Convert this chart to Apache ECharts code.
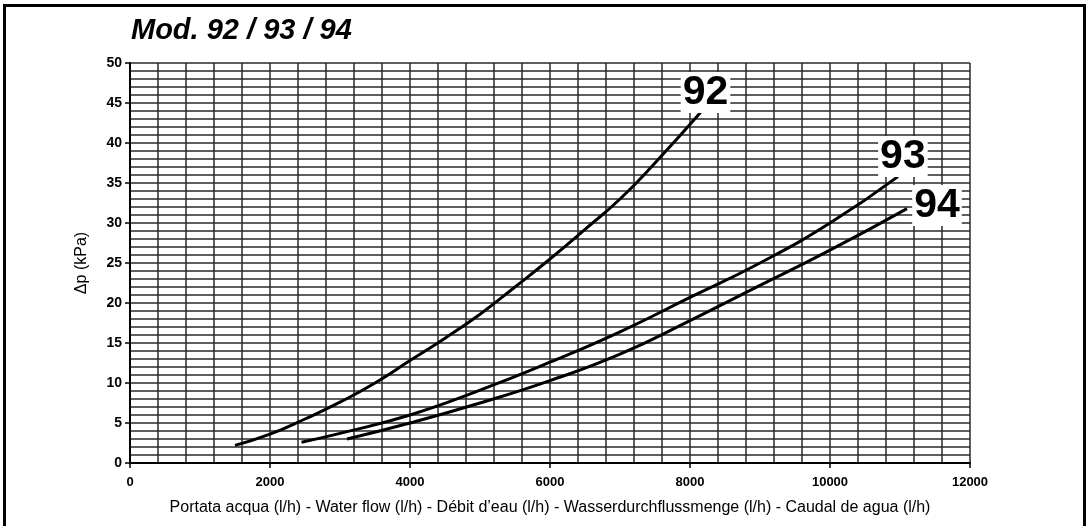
<!DOCTYPE html>
<html>
<head>
<meta charset="utf-8">
<title>Mod. 92 / 93 / 94</title>
<script src="https://cdn.jsdelivr.net/npm/echarts@6/dist/echarts.min.js"></script>
<style>
  body { margin:0; background:#fff; }
  #chart { width:1087px; height:526px; }
</style>
</head>
<body>
<div id="chart"></div>
<script>
// portata acqua (l/h) e perdita di carico (kPa)
var flow92 = [1500, 2000, 2500, 3000, 3500, 4000, 4500, 5000, 5500, 6000, 6500, 7000, 7500, 8150]
var dp92   = [2.2, 3.6, 5.5, 7.6, 10.0, 12.8, 15.6, 18.6, 22.0, 25.5, 29.2, 33.0, 37.5, 43.8]
var flow93 = [2450, 3000, 4000, 5000, 6000, 7000, 8000, 9000, 10000, 10970]
var dp93   = [2.6, 3.7, 6.0, 9.1, 12.6, 16.4, 20.7, 25.0, 30.0, 35.8]
var flow94 = [3100, 4000, 5000, 6000, 7000, 8000, 9000, 10000, 11100]
var dp94   = [3.0, 5.0, 7.5, 10.3, 13.6, 17.8, 22.2, 26.6, 31.8]
var models = ['92', '93', '94']
var xTicks = [0, 2000, 4000, 6000, 8000, 10000, 12000]
var yTicks = [0, 5, 10, 15, 20, 25, 30, 35, 40, 45, 50]

function pairs(xs, ys) {
  var out = []
  for (var i = 0; i < xs.length; i++) out.push([xs[i], ys[i]])
  return out
}

var myChart = echarts.init(document.getElementById('chart'))
var gridLine = { show: true, lineStyle: { color: '#2a2a2a', width: 1.5 } }
var labelOffsets = [[-3, -20], [-3, -20], [22, -3]]
var allData = [pairs(flow92, dp92), pairs(flow93, dp93), pairs(flow94, dp94)]

var series = []
for (var s = 0; s < models.length; s++) {
  series.push({
    name: models[s],
    type: 'line',
    smooth: 0.5,
    symbol: 'none',
    data: allData[s],
    lineStyle: { color: '#000', width: 3 },
    endLabel: {
      show: true,
      formatter: models[s],
      position: 'inside',
      align: 'center',
      verticalAlign: 'middle',
      offset: labelOffsets[s],
      fontFamily: 'Liberation Sans',
      fontWeight: 'bold',
      fontSize: 41,
      color: '#000',
      backgroundColor: '#fff',
      padding: [0, 2]
    }
  })
}

myChart.setOption({
  animation: false,
  title: {
    text: 'Mod. 92 / 93 / 94',
    left: 126,
    top: 11,
    textStyle: { fontFamily: 'Liberation Sans', fontStyle: 'italic', fontWeight: 'bold', fontSize: 29, color: '#000' }
  },
  graphic: [{
    type: 'rect',
    shape: { x: 4.5, y: 5.5, width: 1080, height: 560 },
    style: { fill: null, stroke: '#000', lineWidth: 3 },
    silent: true
  }],
  grid: { left: 130, right: 117, top: 63, bottom: 63 },
  xAxis: {
    type: 'value',
    min: xTicks[0],
    max: xTicks[xTicks.length - 1],
    interval: 2000,
    name: 'Portata acqua (l/h) - Water flow (l/h) - Débit d\u2019eau (l/h) - Wasserdurchflussmenge (l/h) - Caudal de agua (l/h)',
    nameLocation: 'middle',
    nameGap: 37,
    nameTextStyle: { fontFamily: 'Liberation Sans', fontSize: 16, color: '#000' },
    axisLine: { show: true, lineStyle: { color: '#000', width: 2 } },
    axisTick: { show: true, length: 5, lineStyle: { color: '#000', width: 1.5 } },
    axisLabel: {
      margin: 13, fontFamily: 'Liberation Sans', fontWeight: 'bold', fontSize: 13, color: '#000',
      formatter: function (v) { return String(v) }
    },
    splitLine: gridLine,
    minorTick: { show: false, splitNumber: 5 },
    minorSplitLine: gridLine
  },
  yAxis: {
    type: 'value',
    min: yTicks[0],
    max: yTicks[yTicks.length - 1],
    interval: 5,
    name: '\u0394p (kPa)',
    nameLocation: 'middle',
    nameGap: 40,
    nameTextStyle: { fontFamily: 'Liberation Sans', fontSize: 16, color: '#000' },
    axisLine: { show: true, lineStyle: { color: '#000', width: 2 } },
    axisTick: { show: true, length: 5, lineStyle: { color: '#000', width: 1.5 } },
    axisLabel: { margin: 8, fontFamily: 'Liberation Sans', fontWeight: 'bold', fontSize: 14, color: '#000' },
    splitLine: gridLine,
    minorTick: { show: false, splitNumber: 5 },
    minorSplitLine: gridLine
  },
  series: series
})
</script>
</body>
</html>
